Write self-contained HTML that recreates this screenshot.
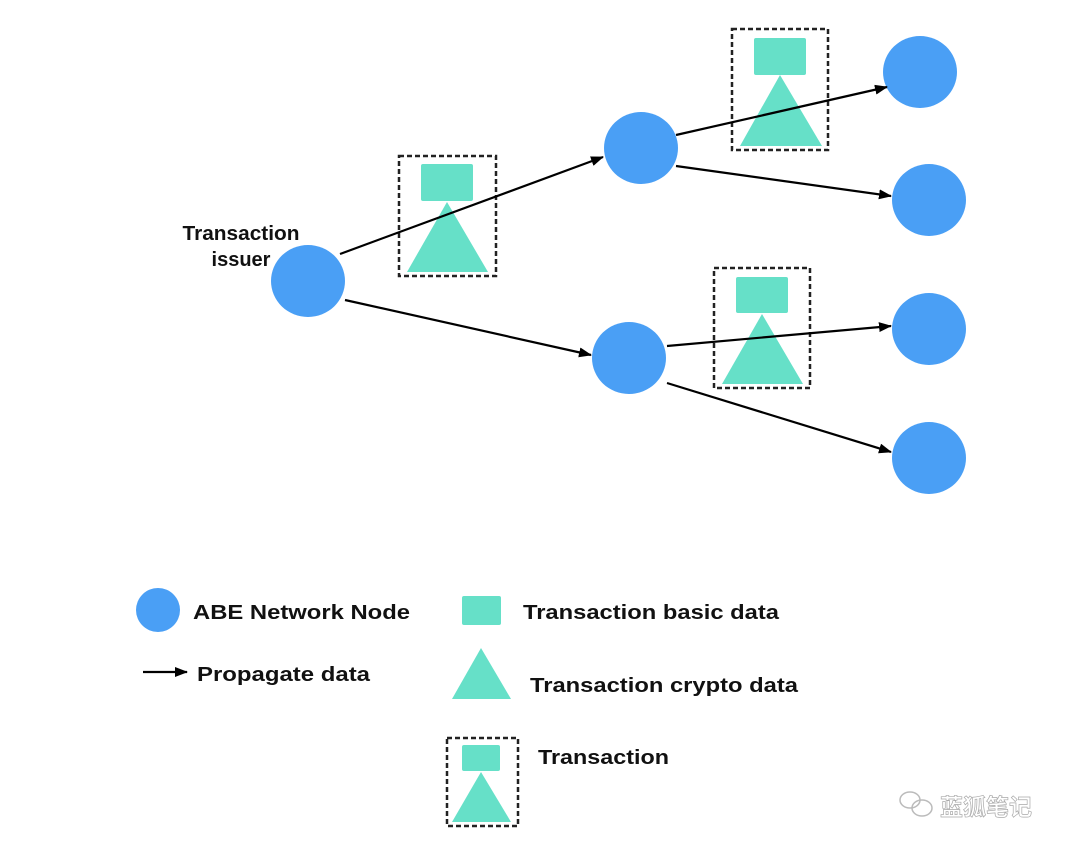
<!DOCTYPE html>
<html><head><meta charset="utf-8"><style>
html,body{margin:0;padding:0;background:#fff;}
svg{display:block;}
text{font-family:"Liberation Sans",Arial,sans-serif;font-weight:bold;fill:#111;}
</style></head><body>
<svg width="1080" height="854" viewBox="0 0 1080 854" xmlns="http://www.w3.org/2000/svg">
<defs>
<marker id="ah" markerWidth="13" markerHeight="10" refX="12" refY="5" orient="auto" markerUnits="userSpaceOnUse">
<path d="M0,0 L13,5 L0,10 z" fill="#000"/>
</marker>
</defs>
<g fill="#4a9ff5">
<ellipse cx="308" cy="281" rx="37" ry="36"/>
<ellipse cx="641" cy="148" rx="37" ry="36"/>
<ellipse cx="629" cy="358" rx="37" ry="36"/>
<ellipse cx="920" cy="72" rx="37" ry="36"/>
<ellipse cx="929" cy="200" rx="37" ry="36"/>
<ellipse cx="929" cy="329" rx="37" ry="36"/>
<ellipse cx="929" cy="458" rx="37" ry="36"/>
<ellipse cx="158" cy="610" rx="22" ry="22"/>
</g>
<g fill="#66e0c8">
<rect x="421" y="164" width="52" height="37" rx="2"/>
<polygon points="447,202 407,272 488,272"/>
<rect x="754" y="38" width="52" height="37" rx="2"/>
<polygon points="780,75 740,146 822,146"/>
<rect x="736" y="277" width="52" height="36" rx="2"/>
<polygon points="762,314 722,384 803,384"/>
<rect x="462" y="596" width="39" height="29" rx="2"/>
<polygon points="481,648 452,699 511,699"/>
<rect x="462" y="745" width="38" height="26" rx="2"/>
<polygon points="481,772 452,822 511,822"/>
</g>
<g fill="none" stroke="#222" stroke-width="2.5" stroke-dasharray="5,3">
<rect x="399" y="156" width="97" height="120"/>
<rect x="732" y="29" width="96" height="121"/>
<rect x="714" y="268" width="96" height="120"/>
<rect x="447" y="738" width="71" height="88"/>
</g>
<g stroke="#000" stroke-width="2.2" marker-end="url(#ah)">
<line x1="340" y1="254" x2="603" y2="157"/>
<line x1="345" y1="300" x2="591" y2="355"/>
<line x1="676" y1="135" x2="887" y2="87"/>
<line x1="676" y1="166" x2="891" y2="196"/>
<line x1="667" y1="346" x2="891" y2="326"/>
<line x1="667" y1="383" x2="891" y2="452"/>
<line x1="143" y1="672" x2="187" y2="672"/>
</g>
<text x="241" y="240" font-size="20" text-anchor="middle" textLength="117" lengthAdjust="spacingAndGlyphs">Transaction</text>
<text x="241" y="266" font-size="20" text-anchor="middle">issuer</text>
<text x="193" y="619" font-size="20" textLength="217" lengthAdjust="spacingAndGlyphs">ABE Network Node</text>
<text x="197" y="681" font-size="20" textLength="173" lengthAdjust="spacingAndGlyphs">Propagate data</text>
<text x="523" y="619" font-size="20" textLength="256" lengthAdjust="spacingAndGlyphs">Transaction basic data</text>
<text x="530" y="692" font-size="20" textLength="268" lengthAdjust="spacingAndGlyphs">Transaction crypto data</text>
<text x="538" y="764" font-size="20" textLength="131" lengthAdjust="spacingAndGlyphs">Transaction</text>
<g fill="none" stroke="#bbb" stroke-width="1.5">
<ellipse cx="910" cy="800" rx="10" ry="8"/>
<ellipse cx="922" cy="808" rx="10" ry="8"/>
</g>
<text x="940" y="815" font-size="23" font-weight="normal" style="fill:#fff;stroke:#aaa;stroke-width:0.7;font-family:'Liberation Sans','Noto Sans CJK SC',sans-serif">蓝狐笔记</text>
</svg>
</body></html>
